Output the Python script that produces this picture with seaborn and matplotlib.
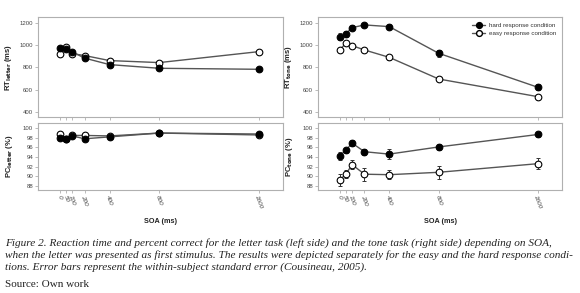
import numpy as np
import pandas as pd
import matplotlib
matplotlib.use("Agg")
import matplotlib.pyplot as plt
from matplotlib.lines import Line2D
import seaborn as sns

# SOA levels (ms)
soa = [0, 50, 100, 200, 400, 800, 1600]
conditions = ["hard response condition", "easy response condition"]

# reaction times (ms)
rt_letter_hard = [972, 968, 938, 882, 824, 791, 782]
rt_letter_easy = [916, 985, 922, 905, 860, 842, 940]
rt_tone_hard = [1075, 1099, 1155, 1179, 1164, 925, 621]
rt_tone_easy = [955, 1015, 994, 955, 889, 695, 537]
rt_letter_hard_se = [18, 20, 15, 20, 15, 15, 12]
rt_letter_easy_se = [15, 12, 12, 12, 10, 10, 15]
rt_tone_hard_se = [28, 28, 22, 18, 22, 32, 25]
rt_tone_easy_se = [14, 12, 12, 12, 22, 15, 12]

# percent correct
pc_letter_hard = [98.0, 97.8, 98.4, 97.8, 98.2, 99.0, 98.8]
pc_letter_easy = [98.8, 97.8, 98.5, 98.5, 98.4, 99.0, 98.6]
pc_tone_hard = [94.2, 95.4, 96.9, 95.1, 94.6, 96.1, 98.7]
pc_tone_easy = [89.2, 90.4, 92.4, 90.4, 90.3, 90.8, 92.6]
pc_letter_hard_se = [0.4, 0.3, 0.2, 0.4, 0.3, 0.2, 0.3]
pc_letter_easy_se = [0.3, 0.3, 0.2, 0.3, 0.3, 0.2, 0.3]
pc_tone_hard_se = [0.8, 0.5, 0.6, 0.6, 1.0, 0.7, 0.6]
pc_tone_easy_se = [1.3, 0.8, 0.9, 1.4, 0.9, 1.4, 1.2]

caption = ("Figure 2. Reaction time and percent correct for the letter task (left side) and the tone task (right side) depending on SOA,\n"
           "when the letter was presented as first stimulus. The results were depicted separately for the easy and the hard response condi-\n"
           "tions. Error bars represent the within-subject standard error (Cousineau, 2005).")
source = "Source: Own work"

sns.set_style("white")
plt.rcParams['font.family'] = ['Liberation Sans', 'DejaVu Sans']

line_col = '#555555'
spine_col = '#b0b0b0'
tick_col = '#444444'
msize = 4.8

fig = plt.figure(figsize=(5.8, 2.93), dpi=100)
W, H = 580.0, 293.0


def make_ax(x0, x1, y0, y1):
    return fig.add_axes([x0 / W, 1 - y1 / H, (x1 - x0) / W, (y1 - y0) / H])


ax_rl = make_ax(38, 283, 17, 117)
ax_pl = make_ax(38, 283, 123, 190)
ax_rt = make_ax(318, 562, 17, 117)
ax_pt = make_ax(318, 562, 123, 190)


def draw(ax, hard, easy, hard_se, easy_se):
    for vals, se, mfc, z in [(easy, easy_se, 'white', 3), (hard, hard_se, 'black', 4)]:
        df = pd.DataFrame({'SOA': soa, 'value': vals})
        ax.errorbar(df['SOA'], df['value'], yerr=se, fmt='none', ecolor='#333333',
                    elinewidth=0.7, capsize=1.3, capthick=0.7, zorder=2)
        sns.lineplot(data=df, x='SOA', y='value', color=line_col, ax=ax,
                     linewidth=1.0, zorder=z)
        line = ax.get_lines()[-1]
        line.set_marker('o')
        line.set_markersize(msize)
        line.set_markerfacecolor(mfc)
        line.set_markeredgecolor('black')
        line.set_markeredgewidth(0.8)
    ax.set_xlim(-175, 1795)
    ax.set_xticks(soa)
    ax.set_xlabel('')
    ax.set_ylabel('')
    for s in ax.spines.values():
        s.set_color(spine_col)
        s.set_linewidth(0.8)
    ax.tick_params(axis='both', which='both', direction='out', length=2, width=0.6,
                   color=spine_col, labelsize=4.3, labelcolor=tick_col, pad=1.5,
                   bottom=True, left=True)


draw(ax_rl, rt_letter_hard, rt_letter_easy, rt_letter_hard_se, rt_letter_easy_se)
draw(ax_rt, rt_tone_hard, rt_tone_easy, rt_tone_hard_se, rt_tone_easy_se)
draw(ax_pl, pc_letter_hard, pc_letter_easy, pc_letter_hard_se, pc_letter_easy_se)
draw(ax_pt, pc_tone_hard, pc_tone_easy, pc_tone_hard_se, pc_tone_easy_se)

for ax in (ax_rl, ax_rt):
    ax.set_ylim(355, 1250)
    ax.set_yticks([400, 600, 800, 1000, 1200])
    ax.set_xticklabels([])
for ax in (ax_pl, ax_pt):
    ax.set_ylim(87.1, 101.1)
    ax.set_yticks([88, 90, 92, 94, 96, 98, 100])
    ax.set_xticklabels([str(s) for s in soa], rotation=-70, ha='center', va='top',
                       fontstyle='italic', fontsize=4.6)
    ax.set_xlabel('SOA (ms)', fontsize=5.2, fontweight='bold', labelpad=6, color='#222222')

lab_kw = dict(fontsize=5.5, fontweight='bold', color='#222222')
ax_rl.set_ylabel(r'RT$_{\mathbf{letter}}$ (ms)', labelpad=4, **lab_kw)
ax_rt.set_ylabel(r'RT$_{\mathbf{tone}}$ (ms)', labelpad=4, **lab_kw)
ax_pl.set_ylabel(r'PC$_{\mathbf{letter}}$ (%)', labelpad=6, **lab_kw)
ax_pt.set_ylabel(r'PC$_{\mathbf{tone}}$ (%)', labelpad=6, **lab_kw)

handles = [Line2D([], [], color=line_col, lw=1.0, marker='o', markersize=4.2,
                  markerfacecolor='black', markeredgecolor='black'),
           Line2D([], [], color=line_col, lw=1.0, marker='o', markersize=4.2,
                  markerfacecolor='white', markeredgecolor='black')]
ax_rt.legend(handles, conditions, loc='upper right', frameon=False, fontsize=4.5,
             handlelength=2.2, handletextpad=0.6, labelspacing=0.4,
             borderaxespad=0.5, labelcolor='#333333')

fig.text(5 / W, 1 - 238 / H, caption, fontsize=8.1, fontstyle='italic',
         family='Liberation Serif', va='top', ha='left', linespacing=1.3, color='#222222')
fig.text(5 / W, 1 - 280 / H, source, fontsize=8.0, family='Liberation Serif',
         va='top', ha='left', color='#222222')

fig.savefig('out.png', dpi=100)
